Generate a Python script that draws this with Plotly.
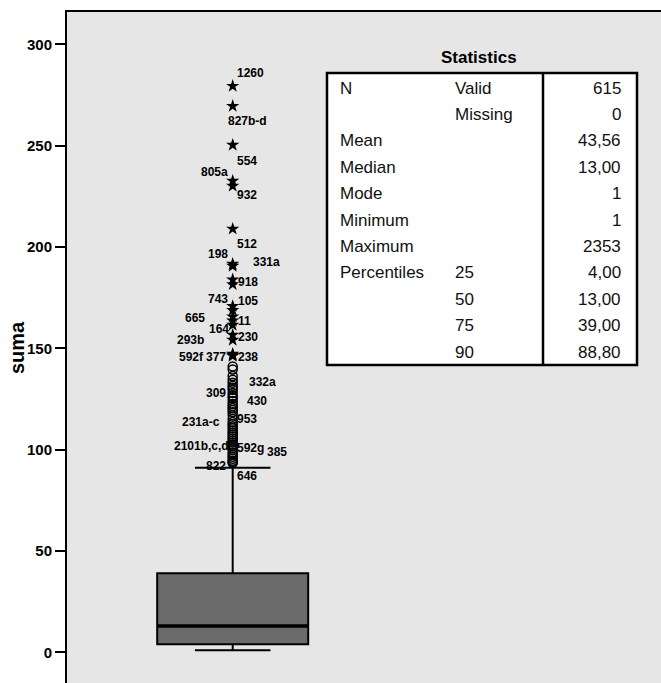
import plotly.graph_objects as go

# ---------------- data ----------------
q1 = [4]
median = [13]
q3 = [39]
lower_fence = [1]
upper_fence = [91]

star_values = [279.4, 269.5, 250.3, 232.6, 230.1, 208.9, 191.6, 190.6, 183.9, 181.5,
               170.8, 168.8, 165.6, 163.6, 161.5, 156.6, 154.1, 147.2, 146.7, 146.2]
star_ids = ["1260", "827b-d", "554", "805a", "932", "512", "198", "331a", "918", "",
            "743", "105", "665", "11", "164", "293b", "230", "592f", "377", "238"]

circle_values = [141.0, 139.5, 136.3, 134.5, 133.0, 131.5, 130.5, 129.5, 127.9, 126.5,
                 125.5, 124.0, 122.5, 121.5, 120.5, 119.5, 118.5, 117.0, 115.1, 113.6,
                 112.5, 111.5, 110.5, 109.5, 108.5, 107.5, 106.5, 105.5, 104.5, 103.5,
                 102.5, 101.8, 100.8, 99.8, 98.5, 97.5, 96.5, 95.5, 94.5, 93.9, 93.4]
circle_ids = {136.3: "332a", 127.9: "309", 124.0: "430", 115.1: "953", 113.6: "231a-c",
              101.8: "2101b,c,d", 100.8: "592g", 99.8: "385", 93.9: "646", 93.4: "822"}

y_ticks = [0, 50, 100, 150, 200, 250, 300]

stat_labels = ["N", "", "Mean", "Median", "Mode", "Minimum", "Maximum", "Percentiles", "", "", ""]
stat_sub = ["Valid", "Missing", "", "", "", "", "", "25", "50", "75", "90"]
stat_values = ["615", "0", "43,56", "13,00", "1", "1", "2353", "4,00", "13,00", "39,00", "88,80"]

# ---------------- label offsets (pixels, style only) ----------------
star_shift = {"1260": (18, 13), "827b-d": (15, -15), "554": (14, -16), "805a": (-18, 9),
              "932": (14, -9), "512": (14, -15), "198": (-15, 10), "331a": (34, 4),
              "918": (15, -2), "743": (-15, 7), "105": (15, 9.5), "665": (-38, -1),
              "11": (12, 0), "164": (-14, -4), "293b": (-42, -5), "230": (15, 3),
              "592f": (-41, -3), "377": (-17, -2), "238": (15, -1)}
circle_shift = {"332a": (30, -6), "309": (-17, 0), "430": (24, 0), "953": (14, 0),
                "231a-c": (-32, 0), "2101b,c,d": (-31, 0), "592g": (18, 0),
                "385": (44, -2), "646": (14, -14), "822": (-17, -3)}

W, H = 661, 683
ML, MT = 67, 12
PW, PH = W - ML, H - MT

def px(x):
    return (x - ML) / PW

def py(y):
    return (H - y) / PH

FONT = "Liberation Sans, Arial, sans-serif"

fig = go.Figure()

fig.add_trace(go.Box(
    x=[0], q1=q1, median=median, q3=q3, lowerfence=lower_fence, upperfence=upper_fence,
    width=1, whiskerwidth=0.5, boxpoints=False,
    fillcolor="#6b6b6b", line=dict(color="black", width=2), showlegend=False,
    hoverinfo="skip"))

fig.add_trace(go.Scatter(
    x=[-0.5, 0.5], y=[median[0], median[0]], mode="lines",
    line=dict(color="black", width=3.5), showlegend=False, hoverinfo="skip"))

fig.add_trace(go.Scatter(
    x=[0] * len(circle_values), y=circle_values, mode="markers",
    marker=dict(symbol="circle-open", size=9, color="black", line=dict(width=1.5)),
    showlegend=False, hoverinfo="skip"))

fig.add_trace(go.Scatter(
    x=[0] * len(star_values), y=star_values, mode="markers",
    marker=dict(symbol="star", size=10, color="black", line=dict(width=0)),
    showlegend=False, hoverinfo="skip"))

LFONT = dict(family=FONT, size=12, color="black", weight="bold")
ann = []
for v, lab in zip(star_values, star_ids):
    if not lab:
        continue
    xs, ys = star_shift[lab]
    ann.append(dict(x=0, y=v, xref="x", yref="y", text=lab, showarrow=False,
                    xanchor="center", yanchor="middle", xshift=xs, yshift=ys, font=LFONT))
for v in circle_values:
    lab = circle_ids.get(v)
    if not lab:
        continue
    xs, ys = circle_shift[lab]
    ann.append(dict(x=0, y=v, xref="x", yref="y", text=lab, showarrow=False,
                    xanchor="center", yanchor="middle", xshift=xs, yshift=ys, font=LFONT))

# y-axis title
ann.append(dict(x=px(17), y=py(348), xref="paper", yref="paper", text="suma", textangle=-90,
                xanchor="center", yanchor="middle",
                showarrow=False, font=dict(family=FONT, size=20, color="black", weight="bold")))

# Statistics table
T_L, T_T, T_R, T_B, T_D = 327, 73, 637, 365, 543
shapes = [
    dict(type="rect", xref="paper", yref="paper", x0=px(T_L), x1=px(T_R), y0=py(T_B), y1=py(T_T),
         fillcolor="white", line=dict(color="black", width=2.5), layer="above"),
    dict(type="line", xref="paper", yref="paper", x0=px(T_D), x1=px(T_D), y0=py(T_B), y1=py(T_T),
         line=dict(color="black", width=2.5), layer="above"),
]
ann.append(dict(x=px(479), y=py(57), xref="paper", yref="paper", text="Statistics", showarrow=False,
                xanchor="center", yanchor="middle",
                font=dict(family=FONT, size=17, color="black", weight="bold")))
row_y0, row_dy = 88, 26.4
tfont = dict(family=FONT, size=17, color="#111111")
for i, (a, b, c) in enumerate(zip(stat_labels, stat_sub, stat_values)):
    yy = py(row_y0 + i * row_dy)
    if a:
        ann.append(dict(x=px(338), y=yy, xref="paper", yref="paper", text=a, showarrow=False,
                        xanchor="left", yanchor="middle", font=tfont))
    if b:
        ann.append(dict(x=px(453), y=yy, xref="paper", yref="paper", text=b, showarrow=False,
                        xanchor="left", yanchor="middle", font=tfont))
    ann.append(dict(x=px(623), y=yy, xref="paper", yref="paper", text=c, showarrow=False,
                    xanchor="right", yanchor="middle", font=tfont))

x_lo = -(232.7 - ML) / 151
x_hi = (W - 232.7) / 151
y_lo = -(H - 652.3) / 2.0267
y_hi = (652.3 - MT) / 2.0267

fig.update_layout(
    width=W, height=H,
    margin=dict(l=ML, r=0, t=MT, b=0, pad=0, autoexpand=False),
    paper_bgcolor="white", plot_bgcolor="#e6e6e6",
    showlegend=False,
    annotations=ann, shapes=shapes,
    xaxis=dict(range=[x_lo, x_hi], side="top", showline=True, linecolor="black", linewidth=2,
               showticklabels=False, ticks="", showgrid=False, zeroline=False, fixedrange=True,
               automargin=False),
    yaxis=dict(range=[y_lo, y_hi], tickvals=y_ticks, showline=True, linecolor="black", linewidth=2,
               ticks="outside", ticklen=10, tickwidth=2, tickcolor="black",
               tickfont=dict(family=FONT, size=15, color="black", weight="bold"),
               showgrid=False, zeroline=False, fixedrange=True, automargin=False),
)

fig.write_html("out.html", config={"displayModeBar": False},
               post_script="document.body.style.margin='0';document.body.style.overflow='hidden';")
